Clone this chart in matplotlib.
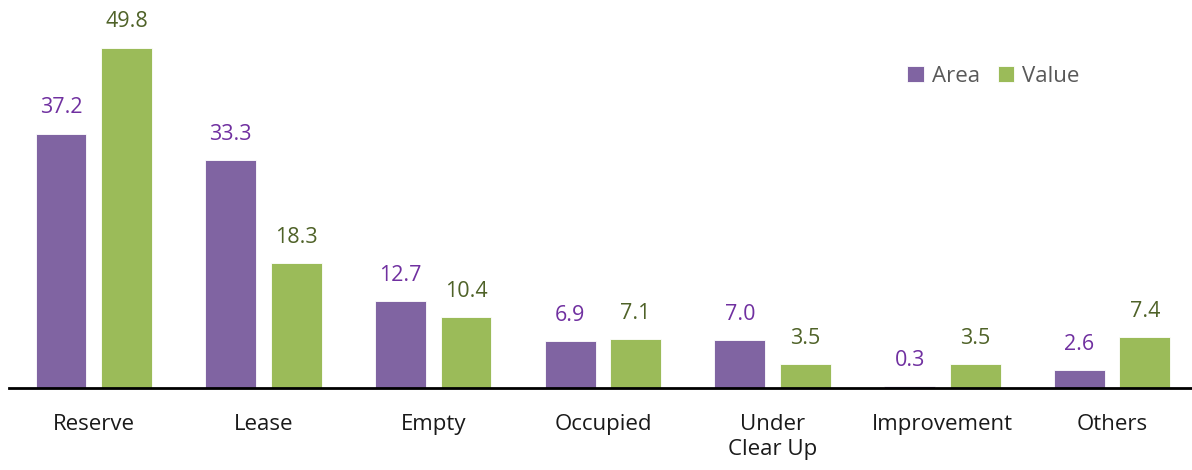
import matplotlib.pyplot as plt
import numpy as np

plt.rcParams['font.family'] = ['Open Sans', 'DejaVu Sans']

categories = ['Reserve', 'Lease', 'Empty', 'Occupied', 'Under\nClear Up', 'Improvement', 'Others']
area = [37.2, 33.3, 12.7, 6.9, 7.0, 0.3, 2.6]
value = [49.8, 18.3, 10.4, 7.1, 3.5, 3.5, 7.4]

purple = '#8064A2'
green = '#9BBB59'

fig = plt.figure(figsize=(11.92, 4.70), dpi=100)
ax = fig.add_axes([0.0075, 0.1745, 0.9966, 0.80])

x = np.arange(len(categories))
w = 0.30
off = 0.193
ax.bar(x - off, area, w, color=purple, edgecolor='white', linewidth=0.6, label='Area')
ax.bar(x + off, value, w, color=green, edgecolor='white', linewidth=0.6, label='Value')

for xi, v in zip(x, area):
    ax.annotate(f'{v:.1f}', (xi - off, v), xytext=(0, 11), textcoords='offset points',
                ha='center', va='bottom', fontsize=15.5, color='#7030A0')
for xi, v in zip(x, value):
    ax.annotate(f'{v:.1f}', (xi + off, v), xytext=(0, 11), textcoords='offset points',
                ha='center', va='bottom', fontsize=15.5, color='#4F6228')

ax.set_xlim(-0.5, len(categories) - 0.5)
ax.set_ylim(0, 55)
ax.set_xticks(x)
ax.set_xticklabels(categories, fontsize=16, color='#1a1a1a', linespacing=1.25)
ax.tick_params(axis='x', length=0, pad=19)
ax.set_yticks([])
for s in ['top', 'right', 'left']:
    ax.spines[s].set_visible(False)
ax.spines['bottom'].set_linewidth(2)
ax.spines['bottom'].set_color('black')

leg = ax.legend(loc='upper right', bbox_to_anchor=(0.918, 0.91), ncol=2, frameon=False,
                fontsize=16, handlelength=0.75, handleheight=0.75, handletextpad=0.35,
                columnspacing=0.8)
for t in leg.get_texts():
    t.set_color('#595959')

fig.savefig('out.png', dpi=100)
